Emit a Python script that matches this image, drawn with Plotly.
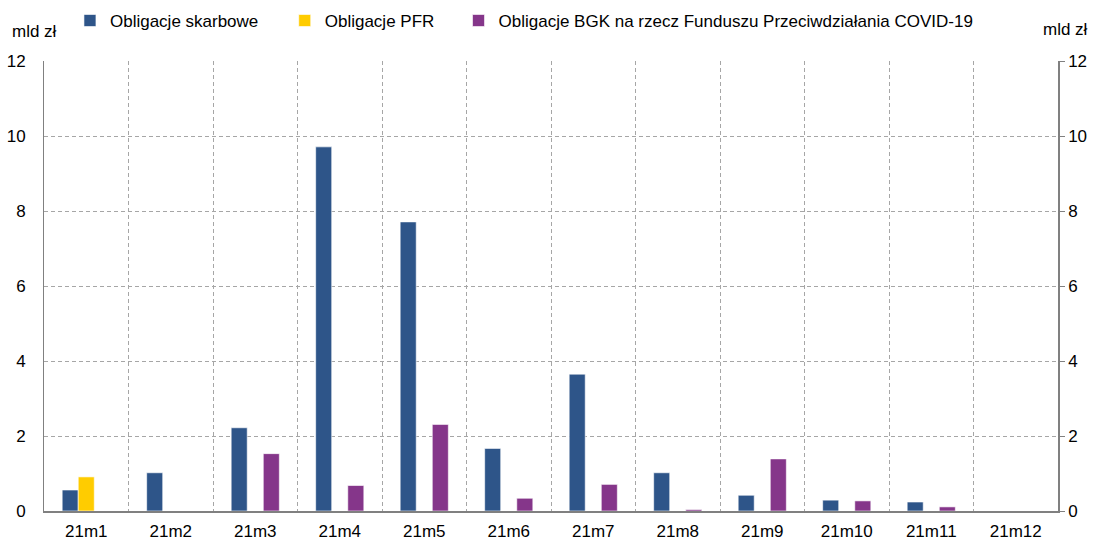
import plotly.graph_objects as go

categories = ["21m1", "21m2", "21m3", "21m4", "21m5", "21m6", "21m7", "21m8", "21m9", "21m10", "21m11", "21m12"]
skarbowe = [0.56, 1.02, 2.22, 9.71, 7.71, 1.67, 3.65, 1.02, 0.42, 0.29, 0.24, 0.0]
pfr = [0.91, 0, 0, 0, 0, 0, 0, 0, 0, 0, 0, 0]
bgk = [0, 0, 1.53, 0.68, 2.31, 0.34, 0.71, 0.04, 1.39, 0.27, 0.11, 0.0]
series_names = ["Obligacje skarbowe", "Obligacje PFR", "Obligacje BGK na rzecz Funduszu Przeciwdziałania COVID-19"]
colors = ["#2E5589", "#FFCC00", "#85368A"]
yticks = [0, 2, 4, 6, 8, 10, 12]

font = dict(family="Liberation Sans, Arial, sans-serif", size=17, color="#000000")
grid_col = "#A6A6A6"

fig = go.Figure()
legend_ids = ["legend", "legend2", "legend3"]
for name, vals, col, lg in zip(series_names, [skarbowe, pfr, bgk], colors, legend_ids):
    fig.add_trace(go.Bar(x=categories, y=vals, name=name, legend=lg,
                         marker=dict(color=col, line=dict(color="rgba(255,255,255,0.6)", width=1))))

fig.add_trace(go.Scatter(x=categories, y=[None] * 12, yaxis="y2", mode="lines",
                         showlegend=False, hoverinfo="skip"))

leg_common = dict(orientation="h", yanchor="middle", y=1.089, xanchor="left",
                  font=dict(family=font["family"], size=17, color="#000"),
                  bgcolor="rgba(0,0,0,0)", borderwidth=0)
fig.update_layout(
    width=1099, height=543,
    margin=dict(l=44, r=41, t=61, b=32, autoexpand=False),
    paper_bgcolor="white", plot_bgcolor="white",
    barmode="group", bargap=0.43, bargroupgap=0,
    font=font,
    legend=dict(x=0.0256, **leg_common),
    legend2=dict(x=0.2374, **leg_common),
    legend3=dict(x=0.4088, **leg_common),
    xaxis=dict(type="category", range=[-0.5, 11.5], tickson="boundaries", showgrid=True,
               gridcolor=grid_col, griddash="4px,3px", gridwidth=1, showline=True,
               linecolor="#808080", linewidth=1.5, ticks="", tickfont=font,
               ticklabelstandoff=4, automargin=False),
    yaxis=dict(range=[0, 12], tickvals=yticks, showgrid=True, gridcolor=grid_col,
               griddash="4px,3px", showline=True, linecolor="#808080", linewidth=1,
               ticks="", tickfont=font, zeroline=False, ticklabelstandoff=14,
               automargin=False),
    yaxis2=dict(range=[0, 12], tickvals=yticks, overlaying="y", side="right", showgrid=False,
                showline=True, linecolor="#808080", linewidth=1.5, ticks="outside", ticklen=5,
                tickcolor="#808080", tickfont=font, zeroline=False, automargin=False),
)
fig.add_annotation(text="mld zł", xref="paper", yref="paper", x=-0.0335, y=1.065,
                   xanchor="left", yanchor="middle", showarrow=False, font=font)
fig.add_annotation(text="mld zł", xref="paper", yref="paper", x=1.0315, y=1.069,
                   xanchor="right", yanchor="middle", showarrow=False, font=font)
fig.write_html("out.html", config={"displayModeBar": False},
               post_script="document.body.style.margin='0';document.body.style.overflow='hidden';")
